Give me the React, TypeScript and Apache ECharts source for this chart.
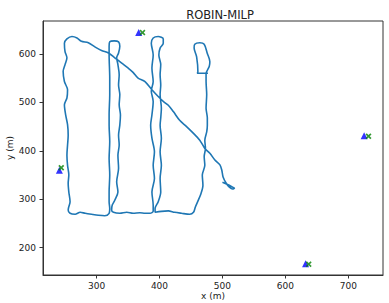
import React, { useEffect, useRef } from "react";
import * as echarts from "echarts";

const xTicks = [300, 400, 500, 600, 700];
const yTicks = [200, 300, 400, 500, 600];

const pathX = [
  500, 509, 516, 519, 516, 511, 506, 501, 499, 496, 488, 480, 472, 464, 454, 443, 432, 422, 414, 406, 398, 388, 377, 366, 358, 350, 340, 329, 319, 308, 298, 287, 276, 269, 261, 253, 249,
  250, 253, 250, 247, 249, 254, 253, 249, 251, 254, 255, 254, 253, 254, 256, 255, 256, 258, 255, 258,
  266, 274, 282, 292, 303, 313, 320, 321, 320,
  320, 321, 320, 321, 320, 320, 321, 321, 320, 320, 321, 328, 335, 337, 335, 332,
  334, 336, 335, 337, 336, 338, 337, 335, 336, 334, 335, 332, 334, 329, 325, 324, 327,
  337, 348, 358, 369, 377, 385, 390,
  390, 388, 392, 390, 392, 388, 386, 388, 390, 387, 390, 388, 390, 387, 390, 398, 406, 406, 401, 399,
  402, 401, 402, 401, 403, 402, 401, 403, 401, 403, 401, 402, 398, 393, 393,
  403, 414, 424, 435, 448, 454, 457, 461, 466, 469, 468, 472, 471, 473, 472, 475, 476, 476, 474, 475, 474, 474, 479, 480, 476, 471, 464, 456, 455, 459, 461, 460, 477,
];
const pathY = [
  335, 330, 325, 323, 321, 325, 333, 346, 360, 371, 381, 395, 405, 422, 436, 450, 463, 481, 494, 502, 512, 526, 543, 550, 562, 571, 581, 592, 602, 607, 614, 623, 626, 633, 636, 631, 622,
  605, 592, 578, 564, 543, 526, 509, 495, 474, 454, 432, 412, 391, 370, 350, 333, 315, 295, 278, 271,
  269, 273, 271, 269, 267, 266, 271, 281, 295,
  315, 350, 384, 419, 453, 474, 516, 550, 598, 616, 625, 627, 625, 616, 602, 592,
  578, 557, 536, 516, 495, 474, 453, 432, 412, 391, 364, 336, 315, 298, 288, 278, 273,
  271, 273, 271, 272, 271, 271, 275,
  288, 315, 343, 370, 398, 426, 453, 474, 502, 523, 543, 571, 598, 622, 633, 636, 631, 622, 612, 598,
  578, 557, 536, 516, 488, 468, 453, 426, 398, 370, 343, 315, 295, 281, 273,
  275, 276, 273, 271, 269, 273, 284, 296, 312, 329, 350, 370, 388, 405, 422, 439, 453, 468, 488, 516, 543, 559, 574, 584, 601, 620, 623, 620, 612, 594, 563, 560, 560,
];

const anchorX = [367, 725, 241, 632];
const anchorY = [644, 431, 360, 167];
const estX = [373, 732, 244, 637];
const estY = [644, 430, 365, 166];

const FONT = "DejaVu Sans";
const TXT = "#222";

export default function App() {
  const ref = useRef<HTMLDivElement>(null);
  useEffect(() => {
    if (!ref.current) return;
    const chart = echarts.init(ref.current, undefined, { renderer: "svg" });
    const pathData = pathX.map((x, i) => [x, pathY[i]]);
    const anchorData = anchorX.map((x, i) => [x, anchorY[i]]);
    const estData = estX.map((x, i) => [x, estY[i]]);
    chart.setOption({
      animation: false,
      backgroundColor: "#fff",
      title: {
        text: "ROBIN-MILP",
        left: 215,
        textAlign: "center",
        top: 4,
        textStyle: { fontFamily: FONT, fontSize: 11.5, fontWeight: "normal", color: TXT },
      },
      grid: {
        left: 43,
        right: 6,
        top: 21,
        bottom: 28,
        containLabel: false,
        outerBoundsMode: "none",
        show: true,
        borderColor: "#333",
        borderWidth: 1,
        backgroundColor: "transparent",
      },
      xAxis: {
        type: "value",
        min: 215,
        max: 755,
        name: "x (m)",
        nameLocation: "middle",
        nameGap: 16,
        nameMoveOverlap: false,
        nameTextStyle: { fontFamily: FONT, fontSize: 9, color: TXT, lineHeight: 10 },
        axisLine: { show: true, lineStyle: { color: "#333", width: 1 } },
        axisTick: { show: true, inside: false, length: 3.5, customValues: xTicks, lineStyle: { color: "#333" } },
        axisLabel: { customValues: xTicks, margin: 6, fontFamily: FONT, fontSize: 9, color: TXT },
        splitLine: { show: false },
      },
      yAxis: {
        type: "value",
        min: 143.6,
        max: 668,
        name: "y (m)",
        nameLocation: "middle",
        nameGap: 28,
        nameMoveOverlap: false,
        nameTextStyle: { fontFamily: FONT, fontSize: 9, color: TXT, lineHeight: 10 },
        axisLine: { show: true, lineStyle: { color: "#333", width: 1 } },
        axisTick: { show: true, inside: false, length: 3.5, customValues: yTicks, lineStyle: { color: "#333" } },
        axisLabel: { customValues: yTicks, margin: 7, fontFamily: FONT, fontSize: 9, color: TXT },
        splitLine: { show: false },
      },
      series: [
        {
          type: "line",
          data: pathData,
          showSymbol: false,
          smooth: 0.3,
          lineStyle: { color: "#1f77b4", width: 1.6 },
          z: 2,
        },
        {
          type: "scatter",
          data: anchorData,
          symbol: "triangle",
          symbolSize: 7,
          itemStyle: { color: "#0000ff" },
          z: 3,
        },
        {
          type: "scatter",
          data: estData,
          symbol: "path://M0,2L2,0L5,3L8,0L10,2L7,5L10,8L8,10L5,7L2,10L0,8L3,5Z",
          symbolSize: 6,
          itemStyle: { color: "#008000" },
          z: 4,
        },
      ],
    });
    return () => chart.dispose();
  }, []);
  return (
    <div
      ref={ref}
      style={{ position: "fixed", left: 0, top: 0, width: 389, height: 303 }}
    />
  );
}
